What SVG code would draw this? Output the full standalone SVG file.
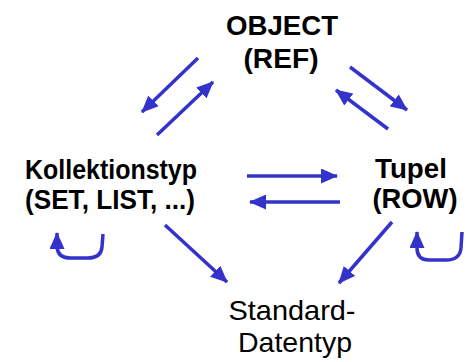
<svg xmlns="http://www.w3.org/2000/svg" width="470" height="362" viewBox="0 0 470 362">
<style>
.t{font-family:"Liberation Sans",Arial,sans-serif;fill:#000;text-anchor:middle}
.b{font-weight:bold}
.c{fill:none;stroke:#3333cc;stroke-width:3.5;marker-end:url(#ah)}
</style>
<defs>
<marker id="ah" markerUnits="userSpaceOnUse" markerWidth="17" markerHeight="15" viewBox="0 0 17 15" refX="16" refY="7.5" orient="auto">
<path d="M0,0 L17,7.5 L0,15 z" fill="#3333cc"/>
</marker>
</defs>
<rect width="470" height="362" fill="#fff"/>
<g id="object"><text class="t b" x="282" y="35" font-size="28" textLength="112" lengthAdjust="spacingAndGlyphs">OBJECT</text><text class="t b" x="281" y="68" font-size="28" textLength="75" lengthAdjust="spacingAndGlyphs">(REF)</text></g>
<g id="kollektionstyp"><text class="t b" x="111" y="179" font-size="27.5" textLength="172" lengthAdjust="spacingAndGlyphs">Kollektionstyp</text><text class="t b" x="110" y="209" font-size="27.5" textLength="170" lengthAdjust="spacingAndGlyphs">(SET, LIST, ...)</text></g>
<g id="tupel"><text class="t b" x="411" y="178" font-size="28" textLength="72" lengthAdjust="spacingAndGlyphs">Tupel</text><text class="t b" x="415" y="208" font-size="28" textLength="85" lengthAdjust="spacingAndGlyphs">(ROW)</text></g>
<g id="standard"><text class="t" x="292" y="320" font-size="28" textLength="127" lengthAdjust="spacingAndGlyphs">Standard-</text><text class="t" x="295" y="352" font-size="28" textLength="114" lengthAdjust="spacingAndGlyphs">Datentyp</text></g>
<g id="connectors">
<path class="c" d="M198,58 L142,112"/>
<path class="c" d="M157,135 L213,82"/>
<path class="c" d="M350,67 L407,110"/>
<path class="c" d="M388,129 L336,90"/>
<path class="c" d="M247,176 L337,176"/>
<path class="c" d="M340,202 L250,202"/>
<path class="c" d="M165,225 L227,282"/>
<path class="c" d="M392,222 L339,283"/>
<path class="c" d="M103,234 L102,247 Q101,258 88,258 L70,258 Q58,258 57,247 L57,233"/>
<path class="c" d="M462,232 L461,248 Q460,260 446,260 L429,260 Q417,260 417,248 L417,232"/>
</g>
</svg>
